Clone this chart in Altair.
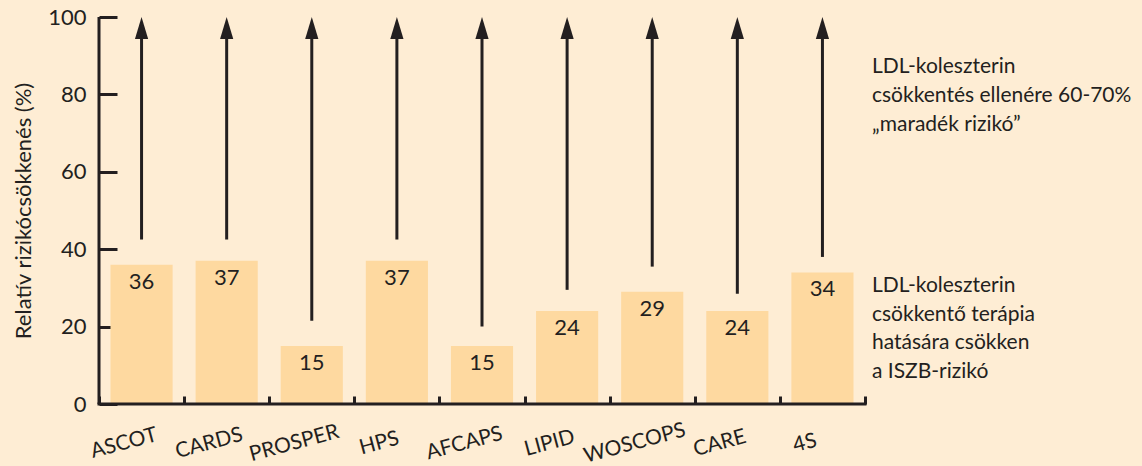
import altair as alt
import pandas as pd

studies = ["ASCOT", "CARDS", "PROSPER", "HPS", "AFCAPS", "LIPID", "WOSCOPS", "CARE", "4S"]
reductions = [36, 37, 15, 37, 15, 24, 29, 24, 34]
arrow_start = [42.5, 42.5, 21.5, 42.5, 20, 29.5, 35.5, 28.5, 38]
arrow_line_end = 95
arrow_tip = 100

y_ticks = [0, 20, 40, 60, 80, 100]
y_title = "Relatív rizikócsökkenés (%)"
note_top = ["LDL-koleszterin", "csökkentés ellenére 60-70%", "\u201emaradék rizikó\u201d"]
note_bottom = ["LDL-koleszterin", "csökkentő terápia", "hatására csökken", "a ISZB-rizikó"]

BG = "#FEEDD4"
BAR = "#FED9A0"
INK = "#231F20"
FONT = "Lato"

df = pd.DataFrame({
    "study": studies,
    "value": reductions,
    "start": arrow_start,
    "end": [arrow_line_end] * len(studies),
    "tip": [arrow_tip] * len(studies),
})

W, H = 766, 387

x_enc = alt.X(
    "study:N",
    sort=studies,
    scale=alt.Scale(paddingInner=0, paddingOuter=0),
    axis=alt.Axis(
        title=None,
        tickBand="extent",
        offset=-8,
        tickSize=8,
        tickWidth=3,
        tickColor=INK,
        domain=False,
        labelAngle=345,
        labelAlign="center",
        labelBaseline="middle",
        labelPadding=39,
        labelOffset=-18,
        labelFontSize=21,
        labelFont=FONT,
        labelColor=INK,
    ),
)
y_enc = alt.Y(
    "value:Q",
    scale=alt.Scale(domain=[0, 100], nice=False, zero=True),
    axis=alt.Axis(
        title=y_title,
        values=y_ticks,
        offset=-18,
        tickSize=18,
        tickWidth=3,
        tickColor=INK,
        domain=False,
        grid=False,
        labelFontSize=22,
        labelFont=FONT,
        labelColor=INK,
        labelPadding=13,
        titleFontSize=22,
        titleFont=FONT,
        titleFontWeight="normal",
        titleColor=INK,
        titlePadding=12,
    ),
)

base = alt.Chart(df)

bars = base.mark_bar(color=BAR, width=alt.RelativeBandSize(0.73)).encode(x=x_enc, y=y_enc)

labels = base.mark_text(baseline="top", dy=7, fontSize=22, font=FONT, color=INK).encode(
    x=alt.X("study:N", sort=studies), y=alt.Y("value:Q"), text=alt.Text("value:Q")
)

arrows = base.mark_rule(color=INK, strokeWidth=3).encode(
    x=alt.X("study:N", sort=studies), y=alt.Y("start:Q"), y2=alt.Y2("end:Q")
)

heads = base.mark_point(
    shape="M0,0L0.6,2L-0.6,2Z", filled=True, size=484, color=INK, opacity=1, strokeWidth=0
).encode(x=alt.X("study:N", sort=studies), y=alt.Y("tip:Q"))

frame_df = pd.DataFrame({"lo": [0], "hi": [100]})
y_line = alt.Chart(frame_df).mark_rule(color=INK, strokeWidth=3).encode(
    x=alt.value(0), y=alt.Y("lo:Q"), y2=alt.Y2("hi:Q")
)
x_line = alt.Chart(frame_df).mark_rule(color=INK, strokeWidth=3).encode(
    x=alt.value(-1.5), x2=alt.value(W + 1.5), y=alt.Y("lo:Q")
)

note1 = alt.Chart(frame_df).mark_text(
    text=note_top, align="left", baseline="alphabetic", fontSize=21, lineHeight=29,
    font=FONT, color=INK,
).encode(x=alt.value(773), y=alt.value(56))

note2 = alt.Chart(frame_df).mark_text(
    text=note_bottom, align="left", baseline="alphabetic", fontSize=21, lineHeight=28.5,
    font=FONT, color=INK,
).encode(x=alt.value(773), y=alt.value(275))

chart = alt.layer(bars, labels, arrows, heads, y_line, x_line, note1, note2).properties(
    width=W,
    height=H,
    autosize=alt.AutoSizeParams(type="none"),
    padding={"left": 99, "top": 17, "right": 277, "bottom": 62},
    background=BG,
).configure_view(stroke=None)

chart.save("out.html", embed_options={"renderer": "svg", "actions": False})
